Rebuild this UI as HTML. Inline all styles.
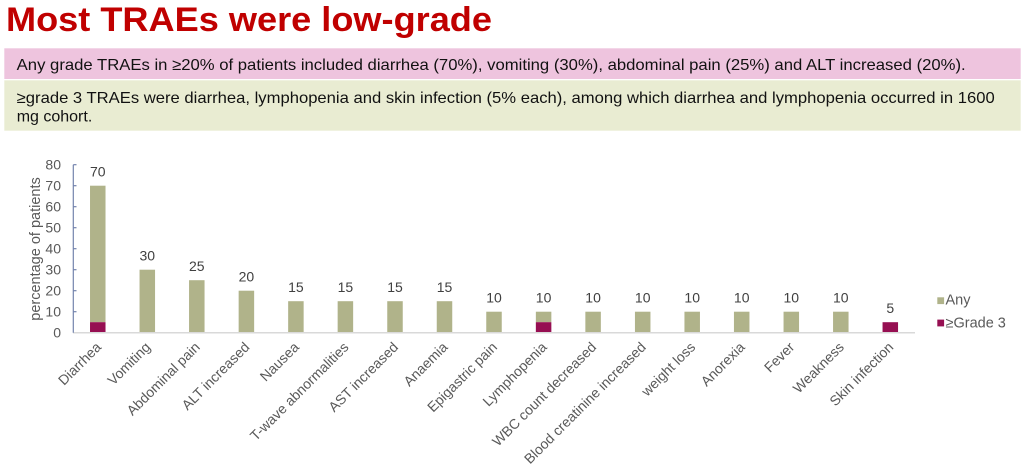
<!DOCTYPE html>
<html>
<head>
<meta charset="utf-8">
<style>
  html,body{margin:0;padding:0;background:#fff;}
  svg{display:block;}
  text{font-family:"Liberation Sans",Arial,sans-serif;}
</style>
</head>
<body>
<svg width="1024" height="467" viewBox="0 0 1024 467" xmlns="http://www.w3.org/2000/svg">
  <!-- Title -->
  <text x="6" y="31" font-size="34" font-weight="bold" fill="#c00000" textLength="486" lengthAdjust="spacingAndGlyphs">Most TRAEs were low-grade</text>

  <!-- Bands -->
  <rect x="4.3" y="48.3" width="1016.4" height="30.7" fill="#eec4de"/>
  <rect x="4.3" y="80.3" width="1016.4" height="50.4" fill="#e9ecd2"/>
  <text x="16.7" y="70" font-size="16" fill="#111" textLength="949" lengthAdjust="spacingAndGlyphs">Any grade TRAEs in ≥20% of patients included diarrhea (70%), vomiting (30%), abdominal pain (25%) and ALT increased (20%).</text>
  <text x="16.7" y="103" font-size="16" fill="#111" textLength="978" lengthAdjust="spacingAndGlyphs">≥grade 3 TRAEs were diarrhea, lymphopenia and skin infection (5% each), among which diarrhea and lymphopenia occurred in 1600</text>
  <text x="16.7" y="121.7" font-size="16" fill="#111">mg cohort.</text>

  <!-- Y axis label -->
  <text transform="translate(40,249) rotate(-90)" text-anchor="middle" font-size="14.5" fill="#595959">percentage of patients</text>

  <!-- Y tick labels -->
  <g font-size="14" fill="#595959" text-anchor="end">
    <text x="61" y="169.6">80</text>
    <text x="61" y="190.6">70</text>
    <text x="61" y="211.6">60</text>
    <text x="61" y="232.6">50</text>
    <text x="61" y="253.6">40</text>
    <text x="61" y="274.6">30</text>
    <text x="61" y="295.6">20</text>
    <text x="61" y="316.6">10</text>
    <text x="61" y="337.6">0</text>
  </g>

  <!-- Bars -->
  <g fill="#b0b38a">
    <rect x="90.02" y="185.7" width="15.5" height="136.5"/>
    <rect x="139.55" y="269.7" width="15.5" height="63"/>
    <rect x="189.05" y="280.2" width="15.5" height="52.5"/>
    <rect x="238.65" y="290.7" width="15.5" height="42"/>
    <rect x="288.15" y="301.2" width="15.5" height="31.5"/>
    <rect x="337.65" y="301.2" width="15.5" height="31.5"/>
    <rect x="387.25" y="301.2" width="15.5" height="31.5"/>
    <rect x="436.75" y="301.2" width="15.5" height="31.5"/>
    <rect x="486.25" y="311.7" width="15.5" height="21"/>
    <rect x="535.85" y="311.7" width="15.5" height="10.5"/>
    <rect x="585.35" y="311.7" width="15.5" height="21"/>
    <rect x="634.95" y="311.7" width="15.5" height="21"/>
    <rect x="684.45" y="311.7" width="15.5" height="21"/>
    <rect x="733.95" y="311.7" width="15.5" height="21"/>
    <rect x="783.55" y="311.7" width="15.5" height="21"/>
    <rect x="833.05" y="311.7" width="15.5" height="21"/>
  </g>
  <g fill="#960f52">
    <rect x="90.02" y="322.2" width="15.5" height="10.5"/>
    <rect x="535.85" y="322.2" width="15.5" height="10.5"/>
    <rect x="882.55" y="322.2" width="15.5" height="10.5"/>
  </g>

  <!-- Axes -->
  <line x1="73" y1="332.7" x2="915" y2="332.7" stroke="#d9d9d9" stroke-width="1.5"/>
  <line x1="73.3" y1="164.7" x2="73.3" y2="332.7" stroke="#7383ad" stroke-width="1.2"/>
  <g stroke="#7383ad" stroke-width="1.2">
    <line x1="73.3" y1="164.7" x2="76.5" y2="164.7"/>
    <line x1="73.3" y1="185.7" x2="76.5" y2="185.7"/>
    <line x1="73.3" y1="206.7" x2="76.5" y2="206.7"/>
    <line x1="73.3" y1="227.7" x2="76.5" y2="227.7"/>
    <line x1="73.3" y1="248.7" x2="76.5" y2="248.7"/>
    <line x1="73.3" y1="269.7" x2="76.5" y2="269.7"/>
    <line x1="73.3" y1="290.7" x2="76.5" y2="290.7"/>
    <line x1="73.3" y1="311.7" x2="76.5" y2="311.7"/>
  </g>

  <!-- Value labels -->
  <g font-size="14" fill="#404040" text-anchor="middle">
    <text x="97.77" y="176.7">70</text>
    <text x="147.3" y="260.7">30</text>
    <text x="196.8" y="271.2">25</text>
    <text x="246.4" y="281.7">20</text>
    <text x="295.9" y="292.2">15</text>
    <text x="345.4" y="292.2">15</text>
    <text x="395.0" y="292.2">15</text>
    <text x="444.5" y="292.2">15</text>
    <text x="494.0" y="302.7">10</text>
    <text x="543.6" y="302.7">10</text>
    <text x="593.1" y="302.7">10</text>
    <text x="642.7" y="302.7">10</text>
    <text x="692.2" y="302.7">10</text>
    <text x="741.7" y="302.7">10</text>
    <text x="791.3" y="302.7">10</text>
    <text x="840.8" y="302.7">10</text>
    <text x="890.3" y="313.2">5</text>
  </g>

  <!-- Category labels -->
  <g font-size="14" fill="#595959" text-anchor="end">
    <text transform="translate(102,348) rotate(-45)">Diarrhea</text>
    <text transform="translate(151.3,348) rotate(-45)">Vomiting</text>
    <text transform="translate(200.8,348) rotate(-45)">Abdominal pain</text>
    <text transform="translate(250.4,348) rotate(-45)">ALT increased</text>
    <text transform="translate(299.9,348) rotate(-45)">Nausea</text>
    <text transform="translate(349.4,348) rotate(-45)">T-wave abnormalities</text>
    <text transform="translate(399,348) rotate(-45)">AST increased</text>
    <text transform="translate(448.5,348) rotate(-45)">Anaemia</text>
    <text transform="translate(498,348) rotate(-45)">Epigastric pain</text>
    <text transform="translate(547.6,348) rotate(-45)">Lymphopenia</text>
    <text transform="translate(597.1,348) rotate(-45)">WBC count decreased</text>
    <text transform="translate(646.7,348) rotate(-45)">Blood creatinine increased</text>
    <text transform="translate(696.2,348) rotate(-45)">weight loss</text>
    <text transform="translate(745.7,348) rotate(-45)">Anorexia</text>
    <text transform="translate(795.3,348) rotate(-45)">Fever</text>
    <text transform="translate(844.8,348) rotate(-45)">Weakness</text>
    <text transform="translate(894.3,348) rotate(-45)">Skin infection</text>
  </g>

  <!-- Legend -->
  <rect x="937.3" y="297.3" width="6.8" height="6.8" fill="#b0b38a"/>
  <text x="945.5" y="304.3" font-size="14.5" fill="#595959">Any</text>
  <rect x="937.3" y="319.6" width="6.8" height="6.8" fill="#960f52"/>
  <text x="945.5" y="327.3" font-size="14.5" fill="#595959">≥Grade 3</text>
</svg>
</body>
</html>
